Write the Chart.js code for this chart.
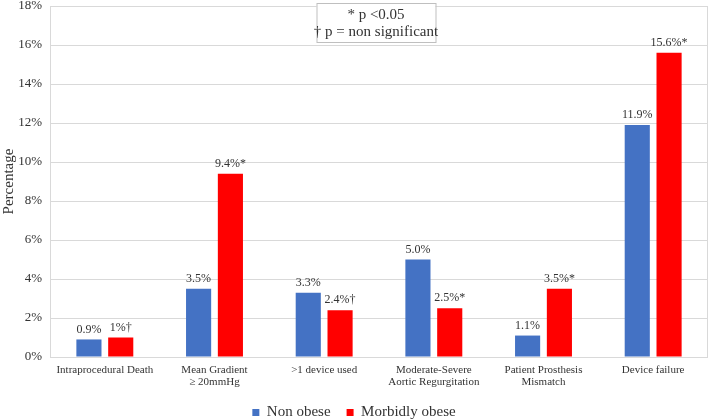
<!DOCTYPE html>
<html>
<head>
<meta charset="utf-8">
<script src="https://cdn.jsdelivr.net/npm/chart.js@4.4.1/dist/chart.umd.min.js"></script>
<style>
  html, body { margin: 0; padding: 0; background: #fff; }
  #wrap { width: 709px; height: 419px; }
</style>
</head>
<body>
<div id="wrap"><canvas id="chart"></canvas></div>
<script>
// categories and values
const categories = [
    'Intraprocedural Death',
    ['Mean Gradient', '\u2265 20mmHg'],
    '>1 device used',
    ['Moderate-Severe', 'Aortic Regurgitation'],
    ['Patient Prosthesis', 'Mismatch'],
    'Device failure'
];
const nonObese = [0.9, 3.5, 3.3, 5.0, 1.1, 11.9];
const morbidlyObese = [1.0, 9.4, 2.4, 2.5, 3.5, 15.6];
const nonObeseLabels = ['0.9%', '3.5%', '3.3%', '5.0%', '1.1%', '11.9%'];
const morbidlyObeseLabels = ['1%\u2020', '9.4%*', '2.4%\u2020', '2.5%*', '3.5%*', '15.6%*'];
const noteLines = ['* p <0.05', '\u2020 p = non significant'];

const SERIF = '"Liberation Serif", "Times New Roman", serif';
const TEXT = '#333333';
const GRID = '#d9d9d9';

// value labels above each bar
const barLabels = {
    id: 'barLabels',
    afterDatasetsDraw(chart) {
        const ctx = chart.ctx;
        ctx.save();
        ctx.font = '12px ' + SERIF;
        ctx.fillStyle = TEXT;
        ctx.textAlign = 'center';
        ctx.textBaseline = 'bottom';
        chart.data.datasets.forEach((ds, i) => {
            chart.getDatasetMeta(i).data.forEach((bar, j) => {
                ctx.fillText(ds.valueLabels[j], bar.x, bar.y - 4);
            });
        });
        ctx.restore();
    }
};

// keep the legend strip short so the plot reaches down like the original
const legendHeight = {
    id: 'legendHeight',
    afterInit(chart) {
        const lg = chart.legend;
        if (!lg) return;
        const fit = lg.fit.bind(lg);
        lg.fit = function () { fit(); this.height = 30; };
    }
};

// plot border + significance note box
const frameAndNote = {
    id: 'frameAndNote',
    beforeDatasetsDraw(chart) {
        const { ctx, chartArea: a } = chart;
        ctx.save();
        ctx.strokeStyle = GRID;
        ctx.lineWidth = 1;
        ctx.strokeRect(a.left + 0.5, a.top + 0.5, a.right - a.left - 1, a.bottom - a.top);
        ctx.restore();
    },
    afterDatasetsDraw(chart) {
        const { ctx, chartArea: a } = chart;
        const cx = (a.left + a.right) / 2 - 3;
        const w = 119, h = 39, top = 3;
        ctx.save();
        ctx.fillStyle = '#fff';
        ctx.fillRect(cx - w / 2, top, w, h);
        ctx.strokeStyle = '#bfbfbf';
        ctx.strokeRect(cx - w / 2 + 0.5, top + 0.5, w, h);
        ctx.font = '15px ' + SERIF;
        ctx.fillStyle = TEXT;
        ctx.textAlign = 'center';
        ctx.textBaseline = 'middle';
        ctx.fillText(noteLines[0], cx, top + 12);
        ctx.fillText(noteLines[1], cx, top + 29);
        ctx.restore();
    }
};

new Chart(document.getElementById('chart'), {
    type: 'bar',
    data: {
        labels: categories,
        datasets: [
            {
                label: 'Non obese',
                data: nonObese,
                valueLabels: nonObeseLabels,
                backgroundColor: '#4472C4',
                categoryPercentage: 0.58,
                barPercentage: 0.79
            },
            {
                label: 'Morbidly obese',
                data: morbidlyObese,
                valueLabels: morbidlyObeseLabels,
                backgroundColor: '#FF0000',
                categoryPercentage: 0.58,
                barPercentage: 0.79
            }
        ]
    },
    options: {
        responsive: true,
        maintainAspectRatio: false,
        animation: false,
        layout: { padding: { top: 6, right: 1, left: 0, bottom: 0 } },
        plugins: {
            legend: {
                position: 'bottom',
                labels: {
                    boxWidth: 7,
                    boxHeight: 7,
                    padding: 16,
                    color: TEXT,
                    font: { family: SERIF, size: 15 }
                }
            },
            tooltip: { enabled: false }
        },
        scales: {
            x: {
                grid: { display: false, drawTicks: false },
                border: { display: false },
                afterFit: (scale) => {
                    scale.height = 32;
                    scale.paddingLeft = 0;
                    scale.paddingRight = 0;
                },
                ticks: {
                    color: TEXT,
                    maxRotation: 0,
                    autoSkip: false,
                    padding: 7,
                    font: { family: SERIF, size: 11, lineHeight: 1.1 }
                }
            },
            y: {
                min: 0,
                max: 18,
                grid: { color: GRID, drawTicks: false },
                border: { display: false },
                afterFit: (scale) => {
                    scale.width = 50;
                    scale.paddingTop = 0;
                    scale.paddingBottom = 0;
                },
                ticks: {
                    stepSize: 2,
                    padding: 8,
                    color: TEXT,
                    font: { family: SERIF, size: 13 },
                    callback: (v) => v + '%'
                },
                title: {
                    display: true,
                    text: 'Percentage',
                    color: TEXT,
                    padding: { top: 0, bottom: 2 },
                    font: { family: SERIF, size: 15 }
                }
            }
        }
    },
    plugins: [barLabels, frameAndNote, legendHeight]
});
</script>
</body>
</html>
